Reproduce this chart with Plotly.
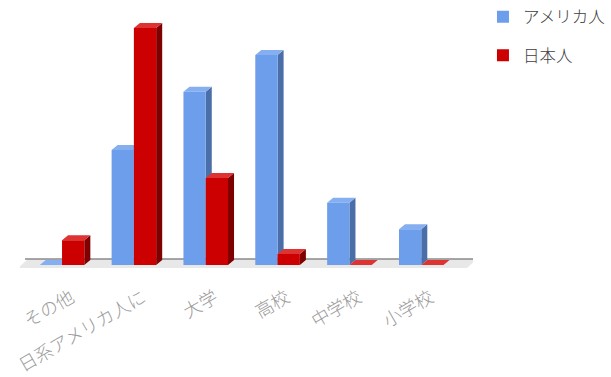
import plotly.graph_objects as go

categories = ["その他", "日系アメリカ人に", "大学", "高校", "中学校", "小学校"]
series_names = ["アメリカ人", "日本人"]
american = [0, 20.9, 31.5, 38.2, 11.3, 6.5]
japanese = [4.5, 43.1, 15.8, 2.0, 0, 0]

# styles
faces = {
    "アメリカ人": {"front": "#6d9eeb", "side": "#4a6ea8", "top": "#85aff0"},
    "日本人": {"front": "#cc0000", "side": "#7f0000", "top": "#dd3333"},
}
BAR_W = 0.31       # front face width (x units)
DX = 0.084         # depth offset in x units
PX_PER_UNIT = 5.5  # y pixels per data unit
DY = 5 / PX_PER_UNIT

X_RANGE = [-0.585, 5.72]
Y_RANGE = [-7 / PX_PER_UNIT, -7 / PX_PER_UNIT + 257 / PX_PER_UNIT]

fig = go.Figure()

# floor (decoration)
px_x = (X_RANGE[1] - X_RANGE[0]) / 453
fl_top = 6 / PX_PER_UNIT
fl_bot = -3 / PX_PER_UNIT
fig.add_trace(go.Scatter(
    x=[X_RANGE[0] - 2 * px_x, X_RANGE[1] - 6 * px_x, X_RANGE[1] + 4 * px_x, X_RANGE[0] + 8 * px_x, X_RANGE[0] - 2 * px_x],
    y=[fl_bot, fl_bot, fl_top, fl_top, fl_bot],
    fill="toself", fillcolor="#e8e8e8", line=dict(width=0), mode="lines",
    showlegend=False, hoverinfo="skip", cliponaxis=False))
fig.add_trace(go.Scatter(
    x=[X_RANGE[0] + 5 * px_x, X_RANGE[1]], y=[fl_top, fl_top], mode="lines",
    line=dict(color="#8a8a8a", width=1.5), showlegend=False, hoverinfo="skip"))


def polys(values, offset):
    front, side, top = ([], []), ([], []), ([], [])
    for i, h in enumerate(values):
        x0 = i + offset
        x1 = x0 + BAR_W
        if h > 0:
            front[0].extend([x0, x1, x1, x0, x0, None])
            front[1].extend([0, 0, h, h, 0, None])
            side[0].extend([x1, x1 + DX, x1 + DX, x1, x1, None])
            side[1].extend([0, DY, h + DY, h, 0, None])
        top[0].extend([x0, x1, x1 + DX, x0 + DX, x0, None])
        top[1].extend([h, h, h + DY, h + DY, h, None])
    return front, side, top


for name, vals, off in [(series_names[0], american, -BAR_W), (series_names[1], japanese, 0.0)]:
    front, side, top = polys(vals, off)
    for (xs, ys), key in [(side, "side"), (top, "top"), (front, "front")]:
        fig.add_trace(go.Scatter(x=xs, y=ys, fill="toself", fillcolor=faces[name][key],
                                 line=dict(width=0), mode="lines", showlegend=False,
                                 hoverinfo="skip"))

for i, name in enumerate(series_names):
    fig.add_trace(go.Scatter(x=[None], y=[None], mode="markers", name=name,
                             legendgroup=str(i),
                             marker=dict(symbol="square", size=12, color=faces[name]["front"])))

fig.update_layout(
    width=611, height=377,
    margin=dict(l=20, r=138, t=15, b=105, autoexpand=False),
    plot_bgcolor="white", paper_bgcolor="white",
    font=dict(family="Noto Sans CJK JP", color="#595959"),
    showlegend=True,
    legend=dict(x=1.022, y=1.06, xanchor="left", yanchor="top",
                font=dict(size=16.5, color="#404040", weight=300), tracegroupgap=14,
                itemwidth=30),
    xaxis=dict(range=X_RANGE, tickvals=list(range(len(categories))), ticktext=categories,
               tickangle=-30, tickfont=dict(size=18, color="#9a9a9a", weight=300),
               ticklabelshift=9, ticklabelstandoff=11, automargin=False,
               showgrid=False, zeroline=False, showline=False, ticks=""),
    yaxis=dict(range=Y_RANGE, visible=False, showgrid=False, zeroline=False, automargin=False),
)

fig.write_html("out.html")
